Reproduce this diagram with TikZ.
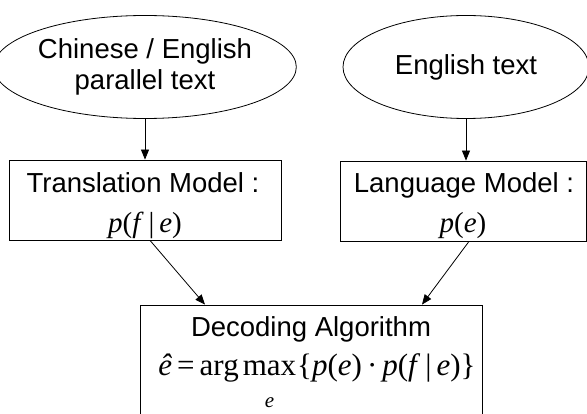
\documentclass[tikz,border=0pt]{standalone}
\usepackage{fontspec}
\setmainfont{Liberation Sans}
\newfontfamily\serif{Liberation Serif}
\usetikzlibrary{shapes.geometric,arrows.meta}
\begin{document}
\begin{tikzpicture}[x=1pt,y=-1pt,
  every node/.style={inner sep=0pt},
  ell/.style={draw,ellipse,line width=0.8pt,minimum height=103pt,align=center,font=\fontsize{27.5}{31}\selectfont},
  box/.style={draw,rectangle,line width=0.8pt},
  sans/.style={font=\fontsize{27.5}{31}\selectfont,anchor=base},
  mathtxt/.style={font=\fontsize{29}{34}\selectfont\serif,anchor=base},
  formula/.style={font=\fontsize{31}{36}\selectfont\serif,anchor=base},
  arr/.style={line width=0.8pt,-{Triangle[length=10pt,width=8pt]}}]
\useasboundingbox (0,0) rectangle (587,414);
\node[ell,minimum width=256pt] (src) at (145,67) {Chinese / English\\parallel text};
\node[ell,minimum width=246pt] (eng) at (466,67) {English text};
\node[box,minimum width=272pt,minimum height=80pt] (tm) at (145,200) {};
\node[box,minimum width=246pt,minimum height=80pt] (lm) at (463,201) {};
\node[box,minimum width=342pt,minimum height=120pt] (dec) at (311,365) {};
\node[sans] (tm1) at (143,193) {Translation Model :};
\node[mathtxt] (tm2) at (145,233) {{\itshape p}({\itshape f\/}\,|\,{\itshape e})};
\node[sans] (lm1) at (464,193) {Language Model :};
\node[mathtxt] (lm2) at (463,233) {{\itshape p}({\itshape e})};
\node[sans] (dec1) at (311,337) {Decoding Algorithm};
\node[formula] (dec2) at (317,376) {$\hbox{{\itshape ê}\kern5pt=\kern5pt arg}\mathop{\hbox{max}}\limits_{\hbox{\vbox{\vskip20pt\hbox{\fontsize{21}{21}\selectfont\itshape e}}}}\mskip-3mu\hbox{\kern1pt\{{\itshape p}({\itshape e})\kern5pt·\kern5pt{\itshape p}({\itshape f\/}\kern5pt|\kern5pt{\itshape e})\}}$};
\draw[arr] (src.south) -- (tm.north);
\draw[arr] (eng.south) -- (eng.south |- lm.north);
\draw[arr] ([xshift=5pt]tm.south) -- ([xshift=-106pt]dec.north);
\draw[arr] ([xshift=6pt]lm.south) -- ([xshift=111pt]dec.north);
\end{tikzpicture}
\end{document}
